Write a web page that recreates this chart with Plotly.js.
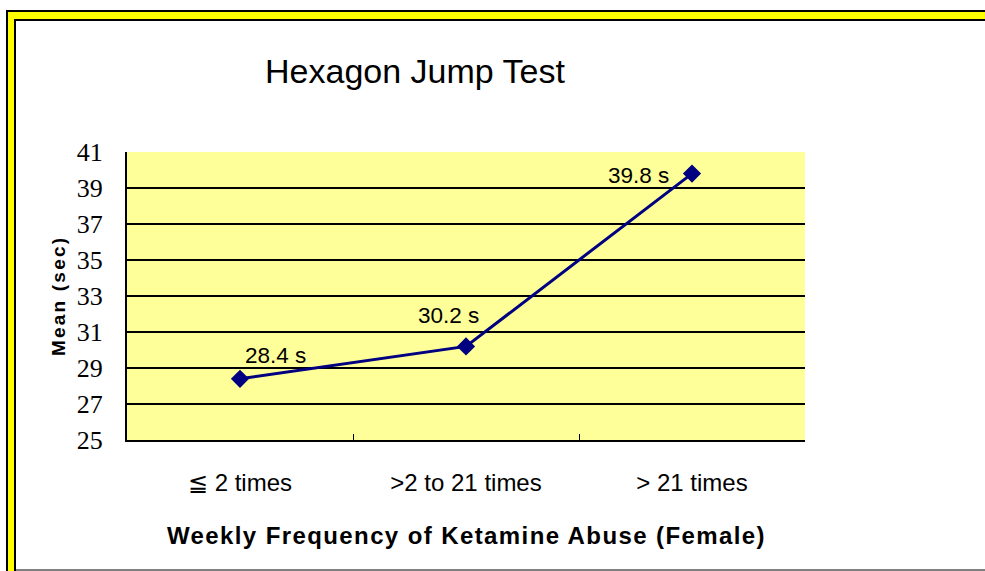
<!DOCTYPE html>
<html>
<head>
<meta charset="utf-8">
<script src="https://cdn.plot.ly/plotly-3.0.1.min.js"></script>
<style>
  html, body { margin: 0; padding: 0; background: #fff; width: 985px; height: 571px; overflow: hidden; }
  #frame { position: absolute; left: 6px; top: 10px; width: 1200px; height: 700px;
           border-left: 2px solid #000; border-top: 2px solid #000; background: #ffff00; }
  #inner { position: absolute; left: 6px; top: 7px; width: 1200px; height: 700px;
           border-left: 2px solid #000; border-top: 2px solid #000; background: #fff; }
  #bottomline { position: absolute; left: 16px; top: 569px; width: 1000px; height: 2px; background: #808080; }
  #chart { position: absolute; left: 0; top: 0; width: 985px; height: 571px; }
  .annotation[data-index="3"] text { letter-spacing: 1.4px; }
  .annotation[data-index="4"] text { letter-spacing: 2.2px; }
</style>
</head>
<body>
<div id="frame"><div id="inner"></div></div>
<div id="bottomline"></div>
<div id="chart"></div>
<script>
const categories = ["\u2266 2 times", ">2 to 21 times", "> 21 times"];
const meanSeconds = [28.4, 30.2, 39.8];
const valueLabels = ["28.4 s", "30.2 s", "39.8 s"];
const yTicks = [25, 27, 29, 31, 33, 35, 37, 39, 41];

// label offsets in pixels (styling only)
const labelShift = [[35, 23], [-18, 31], [-54, -2]];

const trace = {
  x: categories,
  y: meanSeconds,
  type: "scatter",
  mode: "lines+markers",
  line: { color: "#000080", width: 3 },
  marker: { symbol: "diamond", size: 14, color: "#000080" },
  hoverinfo: "none"
};

const annotations = valueLabels.map((t, i) => ({
  x: categories[i], y: meanSeconds[i], xref: "x", yref: "y",
  text: t, showarrow: false,
  xshift: labelShift[i][0], yshift: labelShift[i][1],
  font: { family: "Liberation Sans, Arial, sans-serif", size: 22.5, color: "#000" }
}));

annotations.push({
  text: "<b>Weekly Frequency of Ketamine Abuse (Female)</b>",
  xref: "paper", yref: "paper", x: 0.5, y: -0.33, xanchor: "center", yanchor: "middle",
  showarrow: false,
  font: { family: "Liberation Sans, Arial, sans-serif", size: 24, color: "#000" }
});
annotations.push({
  text: "<b>Mean (sec)</b>",
  xref: "paper", yref: "paper", x: 0, y: 0.5, xanchor: "center", yanchor: "middle",
  xshift: -69, textangle: -90, showarrow: false,
  font: { family: "Liberation Sans, Arial, sans-serif", size: 19, color: "#000" }
});

const layout = {
  width: 985, height: 571,
  margin: { l: 127, r: 180, t: 152, b: 131 },
  paper_bgcolor: "rgba(0,0,0,0)",
  plot_bgcolor: "#ffff99",
  showlegend: false,
  title: {
    text: "Hexagon Jump Test",
    x: 415 / 985, xanchor: "center",
    y: 1 - 71 / 571, yanchor: "middle",
    font: { family: "Liberation Sans, Arial, sans-serif", size: 34, color: "#000" }
  },
  xaxis: {
    type: "category",
    range: [-0.5, 2.5],
    showline: true, linecolor: "#000", linewidth: 2,
    showgrid: false,
    ticks: "inside", ticklen: 6, tickcolor: "#000", tickwidth: 1,
    tickson: "boundaries",
    ticklabelstandoff: 20,
    tickfont: { family: "Liberation Sans, Arial, sans-serif", size: 24, color: "#000" },
    zeroline: false, fixedrange: true
  },
  yaxis: {
    range: [25, 41],
    tickvals: yTicks,
    ticktext: yTicks.map(String),
    showline: true, linecolor: "#000", linewidth: 2,
    showgrid: true, gridcolor: "#000", gridwidth: 1.5,
    ticks: "", ticklabelstandoff: 17,
    tickfont: { family: "Liberation Serif, Times New Roman, serif", size: 26, color: "#000" },
    zeroline: false, fixedrange: true
  },
  annotations: annotations
};

Plotly.newPlot("chart", [trace], layout, { displayModeBar: false, staticPlot: true });
</script>
</body>
</html>
